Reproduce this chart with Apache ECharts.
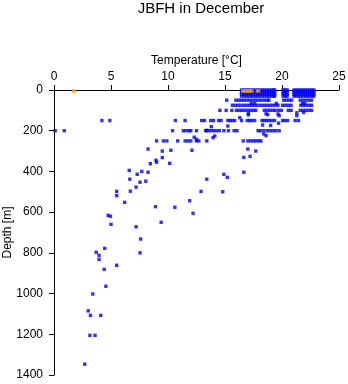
<!DOCTYPE html>
<html>
<head>
<meta charset="utf-8">
<script src="https://cdn.jsdelivr.net/npm/echarts@6/dist/echarts.min.js"></script>
<style>html,body{margin:0;padding:0;background:#fff;}#c{width:348px;height:384px;}</style>
</head>
<body>
<div id="c"></div>
<script>
// Axis ticks
const tempTicks = [0, 5, 10, 15, 20, 25];
const depthTicks = [0, 200, 400, 600, 800, 1000, 1200, 1400];

// Temperatures observed at standard depth levels (blue)
const temps0 = [16.45,16.65,16.85,17.05,17.25,17.45,17.65,17.85,18.05,18.25,18.45,18.65,18.85,19.05,19.25,19.35,20.1,20.3,20.45,21.05,21.25,21.45,21.65,21.85,22.05,22.25,22.45,22.65,22.8];
const temps10 = [16.45,16.7,16.9,17.1,17.3,17.5,17.7,17.9,18.1,18.3,18.5,18.7,18.9,19.1,19.3,19.35,20.1,20.3,20.45,21.05,21.25,21.45,21.65,21.85,22.05,22.25,22.45,22.65,22.8];
const temps20 = [16.45,16.65,16.85,17.05,17.25,17.45,17.65,17.85,18.05,18.25,18.45,18.65,18.85,19.05,19.25,19.35,20.1,20.3,20.45,21.05,21.25,21.45,21.65,21.85,22.05,22.25,22.45,22.65,22.8];
const temps30 = [16.45,16.7,16.9,17.1,17.3,17.5,17.7,17.9,18.1,18.3,18.5,18.7,18.9,19.1,19.3,19.35,20.1,20.3,20.45,21.05,21.25,21.45,21.65,21.85,22.05,22.25,22.45,22.65,22.8];
const temps50 = [15.15,15.95,16.2,16.45,16.7,16.95,17.2,17.45,17.7,17.95,18.2,18.45,18.7,18.85,20.15,20.4,20.65,20.85,21.6,21.85,22.1,22.35,22.6];
const temps75 = [15.65,15.9,16.15,16.4,16.65,16.9,17.15,17.4,17.65,17.9,18.15,18.4,18.65,18.9,19.15,19.4,19.65,20.05,20.3,20.55,20.8,21.65,21.9,22.15,22.4,22.6];
const temps100 = [14.55,15.1,15.6,16.0,16.25,16.5,16.75,17.0,17.25,17.5,17.7,18.45,18.7,18.95,19.2,19.4,19.7,19.95,20.55,20.8,21.6,21.85,22.1,22.35,22.6];
const temps150 = [4.2,4.9,10.65,11.5,12.95,13.2,13.75,14.0,14.45,14.65,15.25,15.45,15.65,15.85,16.45,16.95,17.15,17.35,17.6,18.25,18.45,18.65,18.85,19.1,19.35,20.05,20.25,20.5,21.15,21.45];
const temps200 = [0.1,0.9,10.4,11.35,11.6,11.85,12.0,12.5,13.3,13.5,13.75,14.0,14.25,14.5,14.9,15.3,15.8,16.05,17.9,18.1,18.4,18.7,18.95,19.2,19.45,19.75];
const temps250 = [9.0,9.6,9.9,10.85,11.5,11.75,12.0,12.5,12.7,13.4,16.6,17.0,17.25,17.5,17.7,17.95,18.15];

// Other blue observations [temperature, depth]
const otherPoints = [
  [17.3,66],[17.6,66],[19.5,66],[21.8,66],[22.0,66],
  [17.05,115],[17.05,122],[18.6,117],[18.75,121],[19.65,118],[21.3,112],[21.9,110],
  [16.3,136],[19.75,126],[21.3,126],
  [13.8,180],[15.25,177],[18.3,172],[19.0,174],[19.7,163],[13.4,198],
  [18.4,216],[18.6,224],[14.1,226],[13.95,234],[12.3,232],[12.5,242],
  [8.25,290],[17.0,290],[9.5,300],[10.25,296],[12.1,296],[17.7,300],
  [9.5,332],[16.65,331],[17.2,326],[8.95,345],[9.0,355],[8.45,362],[10.15,360],
  [6.6,395],[7.7,400],[8.25,404],[16.65,404],[7.3,414],[14.9,414],[15.2,429],
  [6.65,438],[13.4,438],[8.05,448],[7.55,453],[7.2,477],
  [5.5,498],[6.7,497],[12.9,498],[14.8,500],[5.5,519],[11.9,544],[6.2,552],
  [8.9,573],[10.6,576],[12.2,606],[4.75,616],[4.95,620],[9.4,650],[5.0,660],
  [7.2,672],[7.6,732],[4.45,778],[3.7,797],[7.55,800],[3.95,812],[3.95,832],
  [5.5,861],[4.4,881],[4.55,964],[3.4,1002],[3.0,1085],[3.2,1107],[4.1,1107],
  [3.15,1205],[3.6,1205],[2.7,1347]
];

// Orange observations [temperature, depth]
const orangePoints = [[1.75,5],[16.6,5],[16.85,5],[17.1,5],[17.3,5],[17.9,5]];

const levels = [
  [0, temps0],[10, temps10],[20, temps20],[30, temps30],[50, temps50],
  [75, temps75],[100, temps100],[150, temps150],[200, temps200],[250, temps250]
];
const blueData = [];
levels.forEach(([d, ts]) => ts.forEach(t => blueData.push([t, d])));
otherPoints.forEach(p => blueData.push(p));

const FONT = 'Liberation Sans, Arial, Helvetica, sans-serif';
const chart = echarts.init(document.getElementById('c'), null, {renderer: 'canvas'});
chart.setOption({
  animation: false,
  backgroundColor: '#fff',
  title: {
    text: 'JBFH in December',
    left: 196, top: -4, textAlign: 'center',
    textStyle: {fontSize: 15, fontWeight: 'normal', color: '#000', fontFamily: FONT}
  },
  grid: {left: 54, right: 9, top: 90, bottom: 9, containLabel: false, outerBoundsMode: 'none'},
  xAxis: {
    type: 'value', position: 'top', min: 0, max: 25, interval: 5,
    name: 'Temperature [°C]', nameLocation: 'middle', nameGap: 23, nameMoveOverlap: false,
    nameTextStyle: {fontSize: 12, color: '#000', fontFamily: FONT},
    axisLine: {show: true, lineStyle: {color: '#000', width: 1}},
    axisTick: {show: true, length: 5, lineStyle: {color: '#000'}},
    axisLabel: {fontSize: 12, color: '#000', margin: 7, fontFamily: FONT,
      formatter: v => tempTicks.includes(v) ? String(v) : ''},
    splitLine: {show: false}
  },
  yAxis: {
    type: 'value', inverse: true, min: 0, max: 1400, interval: 200,
    name: 'Depth [m]', nameLocation: 'middle', nameGap: 40, nameRotate: 90, nameMoveOverlap: false,
    nameTextStyle: {fontSize: 12, color: '#000', fontFamily: FONT},
    axisLine: {show: true, lineStyle: {color: '#000', width: 1}},
    axisTick: {show: true, length: 5, lineStyle: {color: '#000'}},
    axisLabel: {fontSize: 12, color: '#000', margin: 11, fontFamily: FONT,
      formatter: v => depthTicks.includes(v) ? String(v) : ''},
    splitLine: {show: false}
  },
  series: [
    {type: 'scatter', data: blueData, symbol: 'rect', symbolSize: 3.4,
     itemStyle: {color: '#0000ff'}, silent: true},
    {type: 'scatter', data: orangePoints, symbol: 'rect', symbolSize: [4.5, 3.4],
     itemStyle: {color: '#ffa500'}, silent: true, z: 3}
  ]
});
</script>
</body>
</html>
